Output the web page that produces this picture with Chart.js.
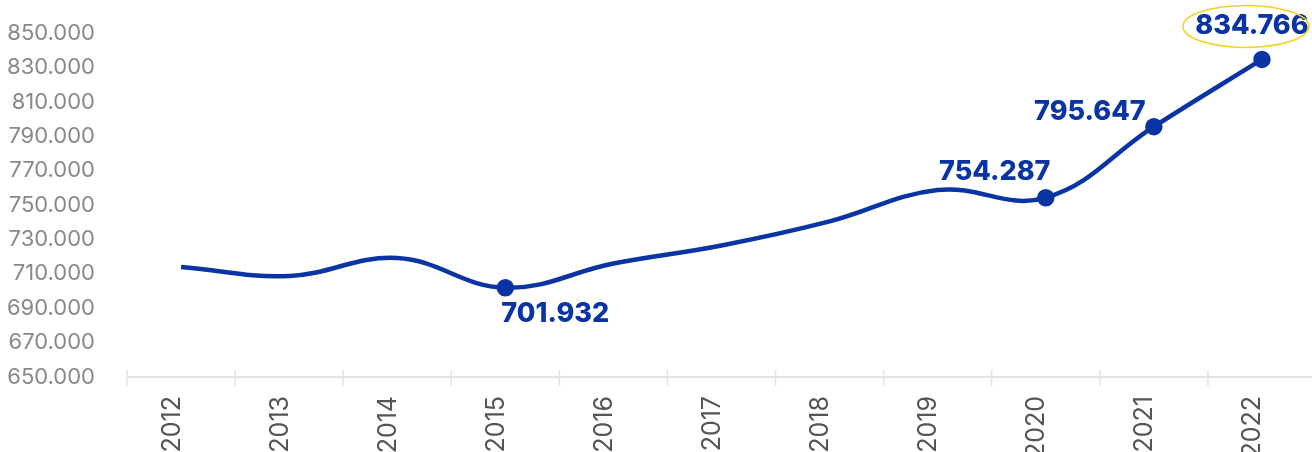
<!DOCTYPE html>
<html>
<head>
<meta charset="utf-8">
<script src="https://cdn.jsdelivr.net/npm/chart.js@4/dist/chart.umd.min.js"></script>
<style>
  html, body { margin: 0; padding: 0; background: #fff; overflow: hidden; }
  #wrap { position: relative; top: -4px; width: 1327px; height: 456px; }
</style>
</head>
<body>
<div id="wrap"><canvas id="popChart"></canvas></div>
<script>
"use strict";

const years = ["2012", "2013", "2014", "2015", "2016", "2017", "2018", "2019", "2020", "2021", "2022"];
const population = [714000, 708800, 719200, 701932, 716000, 726500, 740500, 758800, 754287, 795647, 834766];
const labelledYears = ["2015", "2020", "2021", "2022"];

const fmt = v => Math.round(v).toLocaleString("de-DE");

// value labels next to the highlighted points
const labelOffsets = {
  "2015": { dx: 50, dy: 26 },
  "2020": { dx: -51, dy: -26 },
  "2021": { dx: -64, dy: -15 },
  "2022": { dx: -10, dy: -34 }
};

const pointLabels = {
  id: "pointLabels",
  afterDatasetsDraw(chart) {
    const ctx = chart.ctx;
    const meta = chart.getDatasetMeta(0);
    ctx.save();
    ctx.font = "800 27px Inter, 'Open Sans', sans-serif";
    ctx.fillStyle = "#0a33a3";
    ctx.textAlign = "center";
    ctx.textBaseline = "middle";
    years.forEach((year, i) => {
      if (!labelledYears.includes(year)) return;
      const p = meta.data[i];
      const off = labelOffsets[year];
      const x = p.x + off.dx;
      const y = p.y + off.dy;
      ctx.fillText(fmt(population[i]), x, y);
      if (i === years.length - 1) {
        ctx.beginPath();
        ctx.strokeStyle = "#f5d21c";
        ctx.lineWidth = 1.5;
        ctx.ellipse(x - 6, y + 1, 63, 21, 0, 0, Math.PI * 2);
        ctx.stroke();
      }
    });
    ctx.restore();
  }
};

// small tick marks crossing the x axis line
const axisTicks = {
  id: "axisTicks",
  afterDraw(chart) {
    const ctx = chart.ctx;
    const xs = chart.scales.x;
    const y0 = xs.top;
    ctx.save();
    ctx.strokeStyle = "#e3e3e3";
    ctx.lineWidth = 1.5;
    for (let i = 0; i <= years.length; i++) {
      const x = xs.getPixelForValue(i - 0.5);
      ctx.beginPath();
      ctx.moveTo(x, y0 - 7);
      ctx.lineTo(x, y0 + 9);
      ctx.stroke();
    }
    ctx.restore();
  }
};

const ctx = document.getElementById("popChart").getContext("2d");
new Chart(ctx, {
  type: "line",
  data: {
    labels: years,
    datasets: [{
      data: population,
      borderColor: "#0a33a3",
      backgroundColor: "#0a33a3",
      borderWidth: 4.5,
      tension: 0.4,
      pointRadius: years.map(y => labelledYears.includes(y) ? 6.5 : 0),
      pointHoverRadius: 0,
      clip: false
    }]
  },
  options: {
    responsive: true,
    maintainAspectRatio: false,
    animation: false,
    layout: { padding: { top: 25, right: 0, left: 0, bottom: 0 } },
    plugins: {
      legend: { display: false },
      tooltip: { enabled: false }
    },
    scales: {
      x: {
        offset: true,
        grid: { display: false, offset: true },
        border: { display: true, color: "#e3e3e3", width: 2 },
        ticks: {
          minRotation: 90,
          maxRotation: 90,
          padding: 11,
          labelOffset: -9,
          color: "#555",
          font: { family: "Inter, 'Open Sans', sans-serif", size: 25 }
        },
        afterFit(scale) { scale.height = 75; }
      },
      y: {
        min: 650000,
        max: 850000,
        grid: { display: false },
        border: { display: false },
        ticks: {
          stepSize: 20000,
          padding: 24,
          color: "#888",
          font: { family: "Inter, 'Open Sans', sans-serif", size: 22 },
          callback: v => fmt(v)
        },
        afterFit(scale) { scale.width = 127; }
      }
    }
  },
  plugins: [pointLabels, axisTicks]
});
</script>
</body>
</html>
